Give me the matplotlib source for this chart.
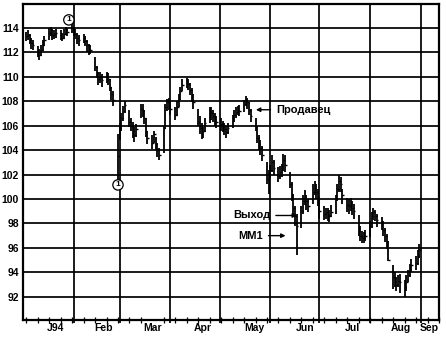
import matplotlib
matplotlib.use("Agg")
import matplotlib.pyplot as plt
import matplotlib.ticker as mticker
import numpy as np
import pandas as pd

plt.rcParams['font.family'] = ['Liberation Sans', 'DejaVu Sans']
plt.rcParams['font.weight'] = 'bold'

"""
Daily bars, Jan 3 - Aug 31 1994 (read off the chart)
"""

dates = pd.bdate_range("1994-01-03", "1994-08-31")

close = [
    # Jan
    113.3, 113.4, 113.0, 112.8, 112.6,
    112.0, 111.8, 112.2, 112.6, 113.0,
    113.6, 113.8, 113.4, 113.5, 113.6,
    113.4, 113.2, 113.5, 113.8, 113.7,
    114.0,
    # Feb
    113.7, 113.5, 113.2, 113.0,
    113.2, 112.9, 112.6, 112.3, 112.2,
    110.8, 110.3, 109.8, 110.0, 109.7,
    110.0, 109.8, 109.2, 108.6, 108.1,
    103.5,
    # Mar
    105.8, 106.6, 107.2, 107.7,
    106.3, 106.0, 105.6, 105.2, 105.7,
    107.4, 107.2, 106.6, 105.6, 105.0,
    104.6, 105.3, 104.5, 104.0, 103.6,
    105.8, 107.5, 107.9, 108.0,
    # Apr
    107.4,
    106.9, 107.5, 108.2, 108.8, 109.3,
    109.6, 109.4, 108.9, 108.5, 107.9,
    106.3, 105.8, 105.3, 105.6, 106.2,
    107.2, 107.0, 106.8, 106.5, 106.3,
    # May
    106.1, 105.9, 105.7, 105.5, 105.8,
    106.5, 106.9, 107.1, 107.3, 107.2,
    107.8, 108.1, 107.9, 107.3, 106.8,
    106.0, 105.0, 104.5, 104.2, 103.6,
    101.6, 101.9,
    # Jun
    102.4, 103.0, 102.5,
    101.9, 102.2, 102.4, 103.2, 102.8,
    101.2, 100.3, 99.3, 98.6, 97.8,
    99.0, 99.8, 100.2, 99.8, 99.4,
    100.6, 100.9, 100.6, 100.2,
    # Jul
    99.0,
    98.8, 98.9, 98.7, 98.6, 98.9,
    100.0, 100.8, 101.5, 101.2, 100.3,
    99.5, 99.4, 99.6, 99.3, 99.0,
    97.4, 97.0, 96.8, 96.8, 97.0,
    # Aug
    97.8, 98.6, 98.9, 98.6, 98.3,
    98.0, 97.5, 97.0, 96.5, 95.0,
    93.6, 93.2, 93.0, 93.3, 93.2,
    92.8, 93.2, 93.8, 94.2, 94.6,
    94.8, 95.3, 95.8,
]

high = [
    113.7, 113.8, 113.5, 113.2, 113.0,
    112.5, 112.3, 112.6, 113.0, 113.3,
    114.0, 114.1, 113.9, 113.8, 113.9,
    113.8, 113.6, 113.9, 114.1, 114.0,
    114.3,
    114.1, 113.9, 113.6, 113.4,
    113.5, 113.3, 113.0, 112.7, 112.6,
    111.6, 110.9, 110.4, 110.4, 110.2,
    110.4, 110.3, 109.8, 109.2, 108.8,
    105.3,
    106.2, 107.0, 107.6, 108.0,
    107.3, 106.6, 106.3, 105.9, 106.1,
    107.8, 107.8, 107.3, 106.6, 105.6,
    105.2, 105.6, 105.1, 104.6, 104.2,
    106.0, 107.8, 108.2, 108.3,
    108.1,
    107.5, 108.0, 108.6, 109.2, 109.8,
    109.9, 109.8, 109.5, 109.1, 108.6,
    107.4, 106.8, 106.2, 105.9, 106.6,
    107.5, 107.5, 107.3, 107.0, 106.8,
    106.6, 106.4, 106.2, 106.0, 106.2,
    106.9, 107.3, 107.5, 107.6, 107.7,
    108.1, 108.4, 108.3, 107.9, 107.4,
    106.6, 106.0, 105.2, 104.8, 104.3,
    103.0, 102.4,
    102.8, 103.6, 103.2,
    102.6, 102.7, 102.9, 103.7, 103.6,
    102.2, 101.4, 100.4, 99.4, 98.8,
    99.4, 100.3, 100.7, 100.3, 100.0,
    101.2, 101.5, 101.2, 100.8,
    99.9,
    99.4, 99.3, 99.3, 99.1, 99.5,
    100.3, 101.2, 102.0, 101.8, 100.8,
    100.1, 100.0, 100.1, 99.8, 99.6,
    98.7, 97.8, 97.4, 97.3, 97.5,
    98.2, 98.9, 99.3, 99.1, 98.8,
    98.5, 98.2, 97.6, 97.1, 96.6,
    94.6, 94.0, 93.6, 93.8, 93.9,
    93.4, 93.8, 94.2, 94.7, 95.1,
    95.3, 95.8, 96.3,
]

low = [
    112.9, 113.0, 112.7, 112.3, 112.2,
    111.6, 111.4, 111.7, 112.1, 112.5,
    113.0, 113.3, 113.0, 113.1, 113.2,
    113.0, 112.9, 113.1, 113.4, 113.3,
    113.6,
    113.3, 113.1, 112.7, 112.5,
    112.8, 112.5, 112.0, 111.8, 111.9,
    110.5, 109.9, 109.3, 109.5, 109.2,
    109.5, 109.3, 108.8, 108.1, 107.6,
    101.2,
    104.8, 105.6, 106.4, 107.0,
    105.9, 105.6, 105.0, 104.7, 105.1,
    106.6, 106.7, 106.1, 105.1, 104.5,
    104.1, 104.6, 104.0, 103.4, 103.2,
    103.8, 105.7, 107.2, 107.3,
    106.9,
    106.5, 106.8, 107.5, 108.1, 108.8,
    109.1, 108.9, 108.5, 107.9, 107.4,
    106.0, 105.3, 104.9, 105.0, 105.5,
    106.2, 106.5, 106.3, 106.0, 105.8,
    105.6, 105.5, 105.2, 105.0, 105.3,
    105.8, 106.3, 106.6, 106.9, 106.8,
    107.1, 107.6, 107.4, 106.9, 106.3,
    105.6, 104.6, 104.0, 103.6, 103.1,
    101.2, 100.4,
    101.7, 102.2, 102.0,
    101.4, 101.6, 101.8, 102.3, 102.2,
    100.9, 99.8, 98.8, 97.8, 95.4,
    97.6, 98.8, 99.5, 99.1, 98.9,
    99.6, 100.3, 100.0, 99.4,
    98.4,
    98.3, 98.4, 98.2, 98.1, 98.5,
    98.8, 99.8, 100.6, 100.6, 99.6,
    98.9, 98.8, 99.0, 98.7, 98.4,
    97.0, 96.6, 96.4, 96.4, 96.6,
    96.9, 97.6, 98.3, 98.2, 97.7,
    97.5, 97.0, 96.5, 95.9, 94.9,
    92.6, 92.8, 92.5, 92.8, 92.3,
    92.0, 92.5, 93.2, 93.6, 94.0,
    94.2, 94.6, 95.2,
]

y_ticks = [92, 94, 96, 98, 100, 102, 104, 106, 108, 110, 112, 114]
month_labels = ["J94", "Feb", "Mar", "Apr", "May", "Jun", "Jul", "Aug", "Sep"]

"""
Plot
"""

start = pd.Timestamp("1994-01-01")
x = np.array((dates - start).days, dtype=float)

month_starts = pd.date_range("1994-02-01", "1994-09-01", freq="MS")
month_x = np.array((month_starts - start).days, dtype=float)
label_days = pd.to_datetime(["1994-01-21", "1994-02-19", "1994-03-21", "1994-04-21",
                             "1994-05-22", "1994-06-22", "1994-07-21", "1994-08-20",
                             "1994-09-06"])
label_x = np.array((label_days - start).days, dtype=float)
mondays = pd.date_range("1994-01-03", "1994-09-12", freq="W-MON")
week_x = np.array((mondays - start).days, dtype=float)

fig = plt.figure(figsize=(4.46, 3.38), dpi=100)
ax = fig.add_axes([23 / 446, 18 / 338, 416 / 446, 316 / 338])

ax.set_xlim(0, 254)
ax.set_ylim(90.1, 115.95)

for yv in y_ticks:
    ax.axhline(yv, color="black", lw=1.25, zorder=1)
ax.vlines(month_x, 89.85, 115.95, color="black", lw=1.25, zorder=1, clip_on=False)

ax.vlines(x, low, high, color="black", lw=1.3, zorder=3)
ax.hlines(close, x, x + 1.0, color="black", lw=1.0, zorder=3)

ax.set_yticks(y_ticks)
ax.set_yticklabels([str(v) for v in y_ticks], fontsize=7.5, fontweight="bold")
ax.tick_params(axis="y", length=0, pad=3)

ax.set_xticks(label_x)
ax.set_xticklabels(month_labels, fontsize=7.5, fontweight="bold")
ax.xaxis.set_minor_locator(mticker.FixedLocator(week_x))
ax.tick_params(axis="x", which="major", length=0, pad=2.5)
ax.tick_params(axis="x", which="minor", length=5, width=0.9, direction="inout")

for sp in ax.spines.values():
    sp.set_linewidth(1.6)

# circled "1" markers
circle = dict(boxstyle="circle,pad=0.2", fc="white", ec="black", lw=0.9)
ax.text(28, 114.65, "1", fontsize=6, ha="center", va="center", bbox=circle, zorder=5)
ax.text(58, 101.15, "1", fontsize=6, ha="center", va="center", bbox=circle, zorder=5)

arrow = dict(arrowstyle="-|>", color="black", lw=1.0, mutation_scale=6)
ax.annotate("Продавец", xy=(140.5, 107.3), xytext=(154.5, 107.3), fontsize=8,
            fontweight="bold", ha="left", va="center", arrowprops=arrow)
ax.annotate("Выход", xy=(169, 98.65), xytext=(151, 98.65), fontsize=8,
            fontweight="bold", ha="right", va="center", arrowprops=arrow)
ax.annotate("ММ1", xy=(162, 97.0), xytext=(146.5, 97.0), fontsize=8,
            fontweight="bold", ha="right", va="center", arrowprops=arrow)

plt.savefig("out.png", dpi=100)
